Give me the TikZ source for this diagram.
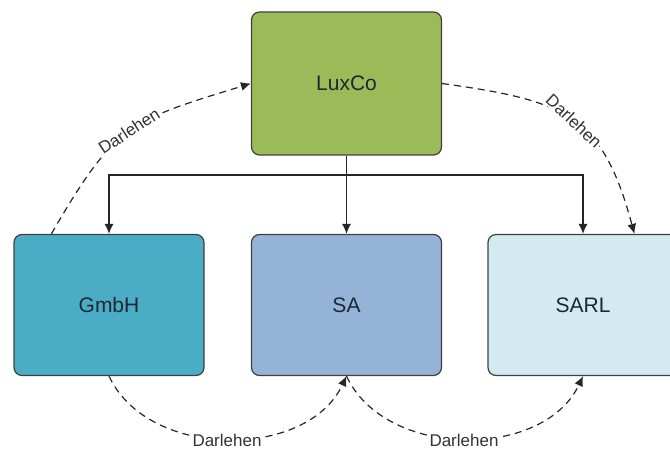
\documentclass[tikz,border=0pt]{standalone}
\usepackage{fontspec}
\setmainfont{Liberation Sans}
\usetikzlibrary{arrows.meta}
\definecolor{luxGreen}{RGB}{155,187,89}
\definecolor{gmbhBlue}{RGB}{75,172,198}
\definecolor{saBlue}{RGB}{149,179,215}
\definecolor{sarlBlue}{RGB}{210,234,240}
\definecolor{boxText}{RGB}{30,40,50}

\begin{document}
\begin{tikzpicture}[x=1pt, y=1pt, font=\fontsize{21}{25}\selectfont]
%% the picture is laid out in pixels of the reference, y pointing up
%% bending of the loan arcs is tuned with out/in and looseness
\tikzstyle{arc}=[-{Latex[length=10pt,width=9pt]}, line width=1.2pt, draw=black!85]
\tikzstyle{loanArc}=[arc, dash pattern=on 7pt off 5pt]
\tikzstyle{company}=[draw=black!75, line width=1.2pt, rounded corners=8pt, minimum width=190pt, minimum height=141pt, text=boxText]
\tikzstyle{loanLabel}=[font=\fontsize{17}{20}\selectfont, fill=white, inner sep=1pt, text=black!80]
\useasboundingbox (0,0) rectangle (670,449);
%% companies %%
\node[company, fill=luxGreen, minimum height=143pt] at (346.5,365.5) (LuxCo) {LuxCo};
\node[company, fill=gmbhBlue] at (109,144) (GmbH) {GmbH};
\node[company, fill=saBlue] at (346.5,144) (SA) {SA};
\node[company, fill=sarlBlue] at (583,144) (SARL) {SARL};
%% holding structure
\coordinate (bus) at (346.5,274);
\draw[arc] (LuxCo.south) -- (SA.north);
\draw[arc] (bus) -| (GmbH.north);
\draw[arc] (bus) -| (SARL.north);
%% loans
\draw[loanArc] ([xshift=38pt]GmbH.north west) to[out=60, in=197, looseness=1.3] (LuxCo.west);
%% label for loan GmbH to LuxCo
\node[loanLabel, rotate=33] at (129,318) (loanGL) {Darlehen};
\draw[loanArc] (LuxCo.east) to[out=-8, in=105, looseness=1.3] ([xshift=147pt]SARL.north west);
%% label for loan LuxCo to SARL
\node[loanLabel, rotate=-43] at (574,328) (loanLS) {Darlehen};
\draw[loanArc] (GmbH.south) to[bend right=65] (SA.south);
%% label for loan GmbH to SA
\node[loanLabel] at (227,9) (loanGS) {Darlehen};
\draw[loanArc] (SA.south) to[bend right=65] (SARL.south);
%% label for loan SA to SARL
\node[loanLabel] at (464,9) (loanSS) {Darlehen};
\end{tikzpicture}
\end{document}
